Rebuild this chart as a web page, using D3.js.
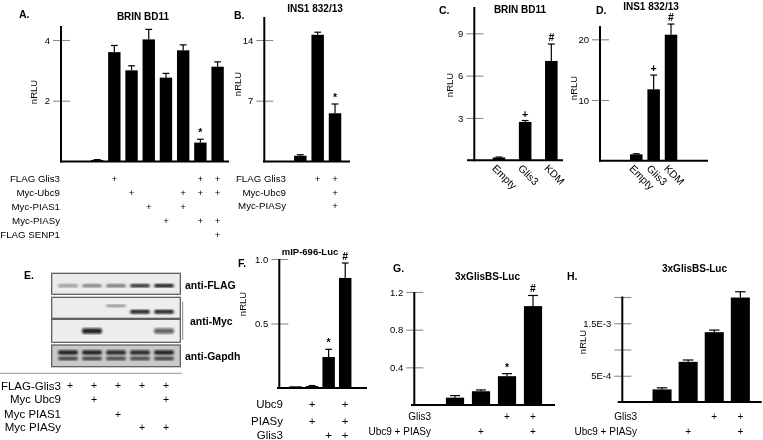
<!DOCTYPE html>
<html><head><meta charset="utf-8">
<script src="https://cdn.jsdelivr.net/npm/d3@7"></script>
<style>
body{margin:0;background:#fff}
svg{display:block;will-change:transform}
text{font-family:"Liberation Sans",Arial,sans-serif;fill:#000;-webkit-font-smoothing:antialiased}
</style>
</head><body>
<svg id="c" width="763" height="440"></svg>
<script>
// ---------------- DATA ----------------
// Panel A  (BRIN BD11)
const aCategories = ["1","2","3","4","5","6","7","8","9"];
const aValues = [0, 0.05, 3.6, 3.0, 4.02, 2.76, 3.66, 0.62, 3.12];
const aErrors = [0, 0.01, 0.22, 0.15, 0.33, 0.14, 0.18, 0.11, 0.16];
const aMarks  = ["","","","","","","","*",""];
const aTicks  = [2, 4];
const aRowLabels = ["FLAG Glis3","Myc-Ubc9","Myc-PIAS1","Myc-PIASy","FLAG SENP1"];
const aTable = [
  [0,0,1,0,0,0,0,1,1],
  [0,0,0,1,0,0,1,1,1],
  [0,0,0,0,1,0,1,0,0],
  [0,0,0,0,0,1,0,1,1],
  [0,0,0,0,0,0,0,0,1]
];
// Panel B  (INS1 832/13)
const bCategories = ["1","2","3","4"];
const bValues = [0, 0.65, 14.6, 5.55];
const bErrors = [0, 0.12, 0.3, 1.07];
const bMarks  = ["","","","*"];
const bTicks  = [7, 14];
const bRowLabels = ["FLAG Glis3","Myc-Ubc9","Myc-PIASy"];
const bTable = [[0,0,1,1],[0,0,0,1],[0,0,0,1]];
// Panel C  (BRIN BD11)
const cCategories = ["Empty","Glis3","KDM"];
const cValues = [0.2, 2.72, 7.04];
const cErrors = [0.03, 0.1, 1.2];
const cMarks  = ["","+","#"];
const cTicks  = [3, 6, 9];
// Panel D  (INS1 832/13)
const dCategories = ["Empty","Glis3","KDM"];
const dValues = [1.05, 11.76, 20.76];
const dErrors = [0.1, 2.35, 1.75];
const dMarks  = ["","+","#"];
const dTicks  = [10, 20];
// Panel E  (western blot)
const eLanes = ["1","2","3","4","5"];
const eFlagBand = [0.35, 0.45, 0.5, 0.85, 0.95];
const eMycPias1 = [0, 0, 0.45, 0, 0];
const eMycPiasy = [0, 0, 0, 0.9, 0.9];
const eMycUbc9  = [0, 0.9, 0, 0, 0.6];
const eGapdh    = [0.9, 0.9, 0.85, 0.85, 0.9];
const eBlotLabels = ["anti-FLAG","anti-Myc","anti-Gapdh"];
const eRowLabels = ["FLAG-Glis3","Myc Ubc9","Myc PIAS1","Myc PIASy"];
const eTable = [[1,1,1,1,1],[0,1,0,0,1],[0,0,1,0,0],[0,0,0,1,1]];
// Panel F  (mIP-696-Luc)
const fCategories = ["1","2","3","4"];
const fValues = [0.013, 0.015, 0.24, 0.853];
const fErrors = [0, 0.004, 0.06, 0.116];
const fMarks  = ["","","*","#"];
const fTicks  = [0.5, 1.0];
const fRowLabels = ["Ubc9","PIASy","Glis3"];
const fTable = [[0,1,0,1],[0,1,0,1],[0,0,1,1]];
// Panel G  (3xGlisBS-Luc)
const gCategories = ["1","2","3","4"];
const gValues = [0.078, 0.146, 0.306, 1.05];
const gErrors = [0.022, 0.014, 0.027, 0.113];
const gMarks  = ["","","*","#"];
const gTicks  = [0.4, 0.8, 1.2];
const gRowLabels = ["Glis3","Ubc9 + PIASy"];
const gTable = [[0,0,1,1],[0,1,0,1]];
// Panel H  (3xGlisBS-Luc)
const hCategories = ["1","2","3","4"];
const hValues = [0.00024, 0.000765, 0.00133, 0.00199];
const hErrors = [0.00003, 0.000035, 0.00004, 0.00011];
const hTicks  = [0.0005, 0.001, 0.0015, 0.002];
const hTickLabels = ["5E-4","","1.5E-3",""];
const hRowLabels = ["Glis3","Ubc9 + PIASy"];
const hTable = [[0,0,1,1],[0,1,0,1]];

// ---------------- DRAWING ----------------
const svg = d3.select("#c");

function barPanel(o){
  const g = svg.append("g");
  const x = d3.scaleBand().domain(o.cats).range(o.xRange)
              .paddingInner(o.pad).paddingOuter(o.pad/2);
  const y = d3.scaleLinear().domain(o.yDomain).range(o.yRange);
  const y0 = y(0);
  const ax = d3.axisLeft(y).tickValues(o.ticks).tickSize(0).tickPadding(0)
      .tickFormat(o.tickFormat || (d => d3.format("")(d)));
  const ag = g.append("g").attr("transform",`translate(${o.axisX},0)`).call(ax);
  ag.select(".domain").remove();
  ag.selectAll(".tick line").attr("x1",-8).attr("x2",9)
     .attr("stroke","#8a8a8a").attr("stroke-width",1.1);
  ag.selectAll(".tick text").attr("x",-11).attr("font-size",o.tickFont||9.5)
     .style("font-family",'"Liberation Sans",Arial,sans-serif').attr("fill","#333");
  g.selectAll("rect.bar").data(o.values).join("rect").attr("class","bar")
    .attr("x",(d,i)=>x(o.cats[i])).attr("width",x.bandwidth())
    .attr("y",d=>y(d)).attr("height",d=>y0-y(d)).attr("fill","#000");
  const cw = x.bandwidth()*0.55;
  o.values.forEach((v,i)=>{
    const e = o.errors[i]; if(!(e>0)) return;
    const cx = x(o.cats[i])+x.bandwidth()/2;
    g.append("line").attr("x1",cx).attr("x2",cx).attr("y1",y(v)).attr("y2",y(v+e))
      .attr("stroke","#000").attr("stroke-width",1.2);
    g.append("line").attr("x1",cx-cw/2).attr("x2",cx+cw/2).attr("y1",y(v+e)).attr("y2",y(v+e))
      .attr("stroke","#000").attr("stroke-width",1.2);
  });
  if(o.marks){
    o.marks.forEach((m,i)=>{
      if(!m) return;
      const cx = x(o.cats[i])+x.bandwidth()/2;
      g.append("text").attr("x",cx).attr("y",y(o.values[i]+o.errors[i])-3)
        .attr("text-anchor","middle").attr("font-size",10.5).attr("font-weight","bold").text(m);
    });
  }
  g.append("line").attr("x1",o.axisX).attr("x2",o.axisX).attr("y1",y0+1).attr("y2",o.axisTop)
    .attr("stroke","#000").attr("stroke-width",2);
  g.append("line").attr("x1",o.base[0]).attr("x2",o.base[1]).attr("y1",y0).attr("y2",y0)
    .attr("stroke","#000").attr("stroke-width",2);
  if(o.ylab){
    g.append("text").attr("transform",`translate(${o.ylab[0]},${o.ylab[1]}) rotate(-90)`)
      .attr("text-anchor","middle").attr("dy","0.35em").attr("font-size",9.5).attr("fill","#222").text("nRLU");
  }
  if(o.title) g.append("text").attr("x",o.title[0]).attr("y",o.title[1]).attr("dy","0.35em")
      .attr("text-anchor","middle").attr("font-weight","bold").attr("font-size",o.titleFont||10).text(o.title[2]);
  if(o.letter) g.append("text").attr("x",o.letter[0]).attr("y",o.letter[1]).attr("dy","0.35em")
      .attr("font-weight","bold").attr("font-size",10.5).text(o.letter[2]);
  if(o.rows){
    o.rows.forEach((lab,r)=>{
      const ry = o.rowY[r];
      g.append("text").attr("x",o.rowRight).attr("y",ry).attr("dy","0.35em")
        .attr("text-anchor","end").attr("font-size",o.rowFont).text(lab);
      o.table[r].forEach((p,i)=>{
        if(!p) return;
        g.append("text").attr("x",x(o.cats[i])+x.bandwidth()/2).attr("y",ry).attr("dy","0.35em")
          .attr("text-anchor","middle").attr("font-size",o.rowFont).attr("fill","#222").text("+");
      });
    });
  }
  if(o.rotLabels){
    g.selectAll("text.xl").data(o.cats).join("text").attr("class","xl")
      .attr("transform",d=>`translate(${x(d)+x.bandwidth()/2-5},${y0+6}) rotate(45)`)
      .attr("dy","0.35em").attr("font-size",10.5).text(d=>d);
  }
  return {x,y,g};
}

barPanel({cats:aCategories, values:aValues, errors:aErrors, marks:aMarks, ticks:aTicks,
  xRange:[71.3,226.2], pad:0.28, yDomain:[0,4], yRange:[161.4,40], axisX:61, axisTop:26,
  base:[60,229], ylab:[34,92], title:[143,16,"BRIN BD11"], letter:[19,14,"A."],
  rows:aRowLabels, table:aTable, rowY:[179,193,207,221,235], rowRight:60, rowFont:9.7});
barPanel({cats:bCategories, values:bValues, errors:bErrors, marks:bMarks, ticks:bTicks,
  xRange:[274.3,343.7], pad:0.28, yDomain:[0,14], yRange:[161.4,40], axisX:264.3, axisTop:17,
  base:[263,350], ylab:[238,84], title:[315,8,"INS1 832/13"], letter:[234,15,"B."],
  rows:bRowLabels, table:bTable, rowY:[179,193,206], rowRight:286, rowFont:9.7});
barPanel({cats:cCategories, values:cValues, errors:cErrors, marks:cMarks, ticks:cTicks,
  xRange:[485.9,564.4], pad:0.52, yDomain:[0,9], yRange:[160.3,33.3], axisX:474.3, axisTop:7,
  base:[467,563], ylab:[450,85], title:[520,9.5,"BRIN BD11"], letter:[439,10,"C."],
  rotLabels:true});
barPanel({cats:dCategories, values:dValues, errors:dErrors, marks:dMarks, ticks:dTicks,
  xRange:[627.6,679.7], pad:0.28, yDomain:[0,20], yRange:[160.7,39.3], axisX:600, axisTop:26,
  base:[599,708], ylab:[574,88], title:[651,6.5,"INS1 832/13"], letter:[596,10.5,"D."],
  rotLabels:true});
barPanel({cats:fCategories, values:fValues, errors:fErrors, marks:fMarks, ticks:fTicks,
  tickFormat:d3.format(".1f"),
  xRange:[287.2,353.5], pad:0.25, yDomain:[0,1], yRange:[388,259], axisX:279.3, axisTop:259,
  base:[277,367], ylab:[243,304], title:[310,252,"mIP-696-Luc"], titleFont:9.5, letter:[238,263,"F."],
  rows:fRowLabels, table:fTable, rowY:[404,421,435], rowRight:283, rowFont:11.5});
barPanel({cats:gCategories, values:gValues, errors:gErrors, marks:gMarks, ticks:gTicks,
  tickFormat:d3.format(".1f"),
  xRange:[442,546], pad:0.3, yDomain:[0,1.2], yRange:[405,292], axisX:414.3, axisTop:292,
  base:[411,555], title:[487.5,276,"3xGlisBS-Luc"], letter:[393,268,"G."],
  rows:gRowLabels, table:gTable, rowY:[416,431], rowRight:431, rowFont:10});
barPanel({cats:hCategories, values:hValues, errors:hErrors, ticks:hTicks,
  tickFormat:(d,i)=>hTickLabels[i],
  xRange:[649,753.4], pad:0.27, yDomain:[0,0.002], yRange:[402,297], axisX:622.3, axisTop:296.5,
  base:[617.7,761.7], ylab:[583,342], title:[694.5,268,"3xGlisBS-Luc"], letter:[567,276,"H."],
  rows:hRowLabels, table:hTable, rowY:[416,431], rowRight:637, rowFont:10});

// Panel E : western blot
(function(){
  const g = svg.append("g");
  const defs = svg.append("defs");
  defs.append("filter").attr("id","blur").append("feGaussianBlur").attr("stdDeviation",0.9);
  const x = d3.scaleBand().domain(eLanes).range([56,176]);
  const boxes = [[273.3,294.3],[297.3,318.3],[319.3,342.3],[345,366.7]];
  const boxFill = ["#ebebeb","#ededed","#eeeeee","#c9c9c9"];
  boxes.forEach((b,i)=>{
    g.append("rect").attr("x",51.7).attr("y",b[0]).attr("width",128.6).attr("height",b[1]-b[0])
      .attr("fill",boxFill[i]).attr("stroke","#555").attr("stroke-width",1.2);
  });
  const bandW = 20;
  function bands(arr, cy, h){
    arr.forEach((v,i)=>{
      if(!(v>0)) return;
      g.append("rect").attr("x",x(eLanes[i])+x.bandwidth()/2-bandW/2).attr("y",cy-h/2)
        .attr("width",bandW).attr("height",h).attr("rx",2)
        .attr("fill","#111").attr("opacity",v).attr("filter","url(#blur)");
    });
  }
  bands(eFlagBand, 285.7, 3.6);
  bands(eMycPias1, 305.7, 2.6);
  bands(eMycPiasy, 311.7, 4);
  bands(eMycUbc9, 331, 5.5);
  bands(eGapdh, 352.5, 4.5);
  bands(eGapdh.map(v=>v*0.85), 358.5, 3.5);
  const lab = [[185,285.7],[190,321.3],[185,356.7]];
  eBlotLabels.forEach((t,i)=>{
    g.append("text").attr("x",lab[i][0]).attr("y",lab[i][1]).attr("dy","0.35em")
      .attr("font-weight","bold").attr("font-size",10.5).text(t);
  });
  g.append("line").attr("x1",182.7).attr("x2",182.7).attr("y1",301.7).attr("y2",340)
    .attr("stroke","#888").attr("stroke-width",1);
  g.append("text").attr("x",24).attr("y",275).attr("dy","0.35em")
    .attr("font-weight","bold").attr("font-size",10.5).text("E.");
  g.append("line").attr("x1",0).attr("x2",182).attr("y1",373.3).attr("y2",373.3)
    .attr("stroke","#aaa").attr("stroke-width",1.2);
  const rowY = [385.7,399.3,414,427.3];
  eRowLabels.forEach((t,r)=>{
    g.append("text").attr("x",61).attr("y",rowY[r]).attr("dy","0.35em")
      .attr("text-anchor","end").attr("font-size",11.5).text(t);
    eTable[r].forEach((p,i)=>{
      if(!p) return;
      g.append("text").attr("x",x(eLanes[i])+x.bandwidth()/2+2).attr("y",rowY[r]).attr("dy","0.35em")
        .attr("text-anchor","middle").attr("font-size",10.5).attr("fill","#222").text("+");
    });
  });
})();
</script>
</body></html>
